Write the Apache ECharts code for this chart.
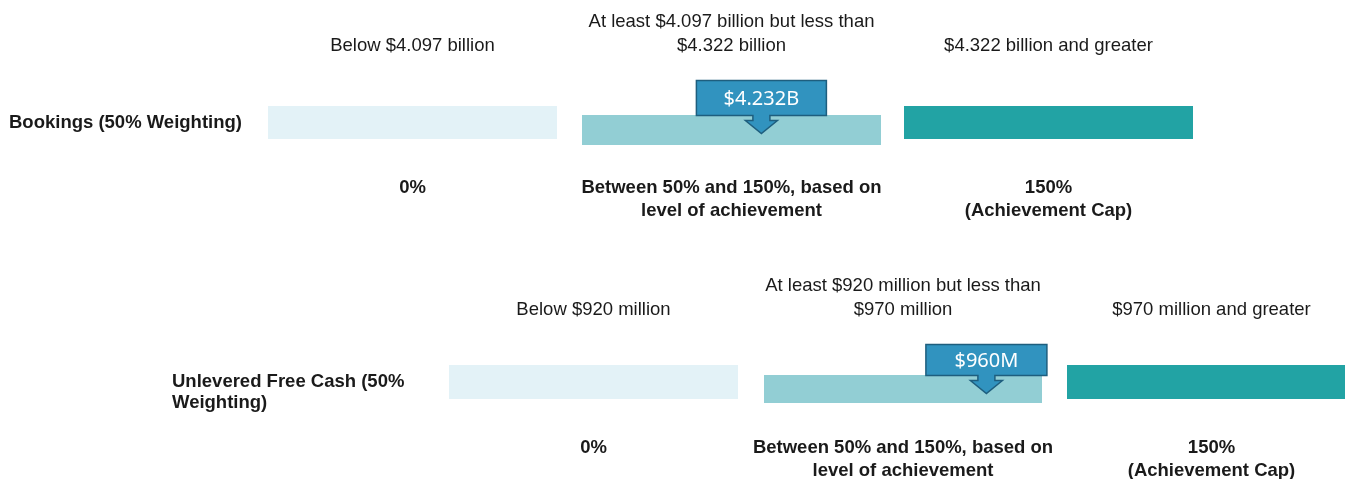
<!DOCTYPE html>
<html>
<head>
<meta charset="utf-8">
<title>Performance Metrics</title>
<script src="https://cdn.jsdelivr.net/npm/echarts@6/dist/echarts.min.js"></script>
<style>
  html, body { margin: 0; padding: 0; background: #ffffff; }
  #chart { width: 1345px; height: 479px; }
</style>
</head>
<body>
<div id="chart"></div>
<script>
// Metric rows
const metrics = ['Bookings (50% Weighting)', 'Unlevered Free Cash (50%\nWeighting)'];

// Threshold range of the middle (scaled) tier, per metric
const lowerThreshold = [4.097, 920];
const upperThreshold = [4.322, 970];

// Actual result achieved, per metric
const actualResult = [4.232, 960];
const resultLabels = ['$4.232B', '$960M'];

// Tier descriptions above the bars (left, middle, right)
const bookingsTiers = [
  'Below $4.097 billion',
  'At least $4.097 billion but less than\n$4.322 billion',
  '$4.322 billion and greater'
];
const cashTiers = [
  'Below $920 million',
  'At least $920 million but less than\n$970 million',
  '$970 million and greater'
];
const tierLabels = [bookingsTiers, cashTiers];

// Payout levels below the bars (left, middle, right)
const payoutLabels = [
  '0%',
  'Between 50% and 150%, based on\nlevel of achievement',
  '150%\n(Achievement Cap)'
];

// ---- styling / layout ----
const FONT = '"Liberation Sans", Arial, Helvetica, sans-serif';
const TEXT_COLOR = '#1a1a1a';
const COLORS = { low: '#e3f2f7', mid: '#92ced4', high: '#22a3a4', callout: '#3193bf', calloutEdge: '#1e5e7e' };

const rowLayout = [
  { grid: { left: 582, width: 299, top: 106, height: 33 }, midOffset: 9, midHeight: 30,
    gapLeft: 25, gapRight: 23, outerWidth: 289, tierBottom: -48, payoutTop: 37.5,
    nameX: 9, nameDy: 0, boxW: 130, boxH: 35 },
  { grid: { left: 764, width: 278, top: 365, height: 34 }, midOffset: 10, midHeight: 28,
    gapLeft: 26, gapRight: 25, outerWidth: 289, tierBottom: -43, payoutTop: 37.5,
    nameX: 172, nameDy: 10, boxW: 121, boxH: 31 }
];

function makeRenderer(row) {
  const L = rowLayout[row];
  return function (params, api) {
    const lo = api.value(0), hi = api.value(1), act = api.value(2);
    const pLo = api.coord([lo, 0]);
    const pHi = api.coord([hi, 0]);
    const pAct = api.coord([act, 0]);
    const bandH = api.size([0, 1])[1];
    const top = pLo[1] - bandH / 2;
    const bottom = top + bandH;

    const leftX = pLo[0] - L.gapLeft - L.outerWidth;
    const rightX = pHi[0] + L.gapRight;
    const midTop = top + L.midOffset;
    const centers = [leftX + L.outerWidth / 2, (pLo[0] + pHi[0]) / 2, rightX + L.outerWidth / 2];

    const children = [
      { type: 'rect', shape: { x: leftX, y: top, width: L.outerWidth, height: bandH }, style: { fill: COLORS.low } },
      { type: 'rect', shape: { x: pLo[0], y: midTop, width: pHi[0] - pLo[0], height: L.midHeight }, style: { fill: COLORS.mid } },
      { type: 'rect', shape: { x: rightX, y: top, width: L.outerWidth, height: bandH }, style: { fill: COLORS.high } }
    ];

    // metric name
    children.push({
      type: 'text',
      style: {
        text: metrics[row], x: L.nameX, y: pLo[1] + L.nameDy,
        align: 'left', verticalAlign: 'middle',
        font: 'bold 18.5px ' + FONT, lineHeight: 21, fill: TEXT_COLOR
      }
    });

    // tier descriptions and payouts
    for (let k = 0; k < 3; k++) {
      children.push({
        type: 'text',
        style: {
          text: tierLabels[row][k], x: centers[k], y: top + L.tierBottom,
          align: 'center', verticalAlign: 'bottom',
          font: '18.5px ' + FONT, lineHeight: 24, fill: TEXT_COLOR
        }
      });
      children.push({
        type: 'text',
        style: {
          text: payoutLabels[k], x: centers[k], y: bottom + L.payoutTop - 11.5 + 11.5,
          align: 'center', verticalAlign: 'top',
          font: 'bold 18.5px ' + FONT, lineHeight: 23, fill: TEXT_COLOR
        }
      });
    }

    // callout pointing at the actual result
    const tx = pAct[0];
    const bb = midTop + 0.5;
    const bt = bb - L.boxH;
    const x0 = tx - L.boxW / 2, x1 = tx + L.boxW / 2;
    const tip = bb + 18;
    const neck = bb + 5;
    children.push({
      type: 'polygon',
      shape: {
        points: [
          [x0, bt], [x1, bt], [x1, bb], [tx + 8.5, bb], [tx + 8.5, neck], [tx + 16, neck],
          [tx, tip], [tx - 16, neck], [tx - 8.5, neck], [tx - 8.5, bb], [x0, bb]
        ]
      },
      style: { fill: COLORS.callout, stroke: COLORS.calloutEdge, lineWidth: 1.5, lineJoin: 'miter' }
    });
    children.push({
      type: 'text',
      style: {
        text: resultLabels[row], x: tx, y: (bt + bb) / 2 + 1,
        align: 'center', verticalAlign: 'middle',
        font: '20px "Noto Sans", "Open Sans", sans-serif', fill: '#ffffff'
      }
    });

    return { type: 'group', children: children };
  };
}

const chart = echarts.init(document.getElementById('chart'), null, { renderer: 'canvas' });

chart.setOption({
  animation: false,
  backgroundColor: '#ffffff',
  grid: rowLayout.map(r => Object.assign({ containLabel: false }, r.grid)),
  xAxis: metrics.map((m, i) => ({
    type: 'value', gridIndex: i, min: lowerThreshold[i], max: upperThreshold[i], show: false
  })),
  yAxis: metrics.map((m, i) => ({
    type: 'category', gridIndex: i, data: [m], show: false
  })),
  series: metrics.map((m, i) => ({
    type: 'custom',
    name: m,
    xAxisIndex: i,
    yAxisIndex: i,
    silent: true,
    clip: false,
    encode: { x: [0, 1, 2], y: 3 },
    renderItem: makeRenderer(i),
    data: [[lowerThreshold[i], upperThreshold[i], actualResult[i], 0]]
  }))
});
</script>
</body>
</html>
